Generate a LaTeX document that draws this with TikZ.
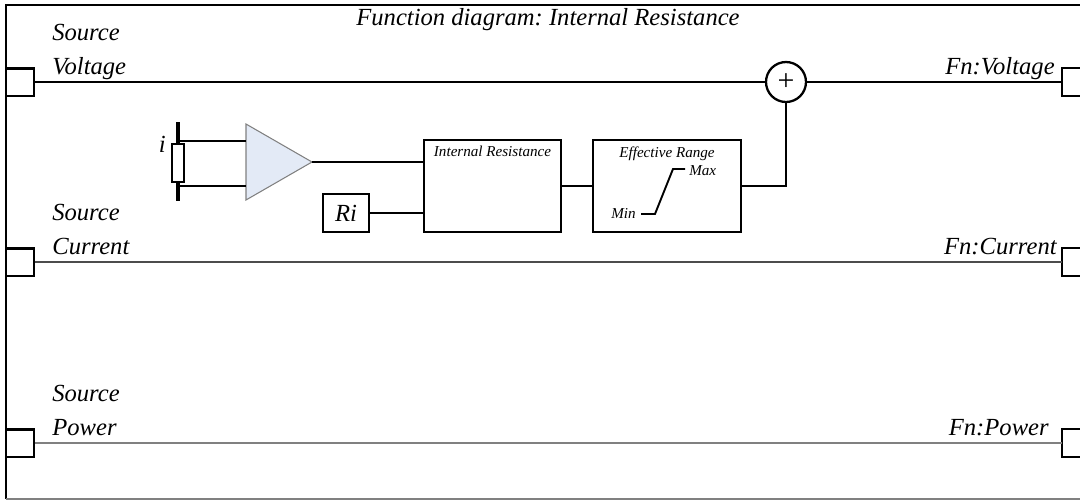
\documentclass[tikz,border=0pt]{standalone}
\usepackage{fontspec}
\setmainfont{Liberation Serif}
\usetikzlibrary{positioning}
\definecolor{ampfill}{HTML}{E3EAF6}
\frenchspacing
\tikzset{port/.style={draw, line width=1.7pt, minimum size=0.56cm, inner sep=0pt},
 fnbox/.style={draw, line width=1.6pt, inner sep=0pt},
 lbl/.style={font=\fontsize{14}{16}\selectfont\itshape, inner sep=0pt},
 small/.style={font=\fontsize{8.6}{10}\selectfont\itshape, inner sep=0pt},
 wire/.style={line width=1.4pt},
 bus/.style={line width=1.7pt},
 }

\begin{document}
\begin{tikzpicture}[x=0.02cm, y=-0.02cm]
        \useasboundingbox (0,0) rectangle (1080,501);
        % frame
        \draw[bus] (1080,5) -- (6,5) -- (6,499);
        \draw[gray, line width=0.9pt] (6,499) -- (1080,499);
        \node[lbl, anchor=base] (title) at (548,25) {Function diagram: Internal Resistance};

        % signal rows
        \foreach \y/\sig/\ex/\i in {82/Voltage/1055/1, 262/Current/1057/2, 443/Power/1049/3} {
            \node[port] (in\i) at (20,\y) {};
            \coordinate (out\i) at (1062,\y);
            \draw[bus] (1080,\y-14) -- (1062,\y-14) -- (1062,\y+14) -- (1080,\y+14);
            \node[lbl, anchor=base west] at (52,\y-42) {Source};
            \node[lbl, anchor=base west] at (52,\y-8) {\sig};
            \node[lbl, anchor=base east] at (\ex,\y-8) {Fn:\sig};
        }

        % shunt and amplifier
        \draw[line width=2pt] (178,122) -- (178,201);
        \coordinate (tap1) at (178,141);
        \coordinate (tap2) at (178,186);
        \node[fnbox, fill=white, minimum width=0.24cm, minimum height=0.76cm] (shunt) at (178,163) {};
        \node[lbl, anchor=base east] at (166,152) {i};
        \filldraw[fill=ampfill, draw=gray, line width=0.6pt] (246,124) coordinate (ampa) -- (312,162) coordinate (amp) -- (246,200) -- cycle;
        \draw[wire] (tap1) -- (tap1 -| ampa);
        \draw[wire] (tap2) -- (tap2 -| ampa);

        % function blocks
        \node[fnbox, minimum width=2.74cm, minimum height=1.84cm] (irbox) at (492.5,186) {};
        \node[small, anchor=base] at (irbox.north |- 0,156) {Internal Resistance};
        \node[fnbox, minimum width=0.92cm, minimum height=0.76cm, font=\fontsize{14}{16}\selectfont\itshape] (ribox) at (346,213) {Ri};
        \node[fnbox, minimum width=2.96cm, minimum height=1.84cm] (erbox) at (667,186) {};
        \node[small, anchor=base] at (erbox.north |- 0,157) {Effective Range};
        \node[small, anchor=base east] (min) at (636,218) {Min};
        \node[small, anchor=base west] (max) at (689,175) {Max};
        \draw[line width=1.1pt] (641,214) -- (655,214) -- (673,169) -- (685,169);
        \node[draw, circle, line width=1.3pt, minimum size=0.8cm, inner sep=0pt, font=\fontsize{17}{18}\selectfont] (sum) at (786,82) {+};

        \draw[wire] (amp) -- (amp -| irbox.west);
        \draw[wire] (ribox.east) -- (ribox.east -| irbox.west);
        \draw[wire] (irbox.east) -- (erbox.west);
        \draw[wire] (erbox.east) -| (sum.south);

        % signal lines
        \draw[bus] (in1.east) -- (sum.west);
        \draw[bus] (sum.east) -- (out1);
        \draw[gray!60!black, line width=0.7pt] (in2.east) -- (out2);
        \draw[gray, line width=0.7pt] (in3.east) -- (out3);
    \end{tikzpicture}
\end{document}
